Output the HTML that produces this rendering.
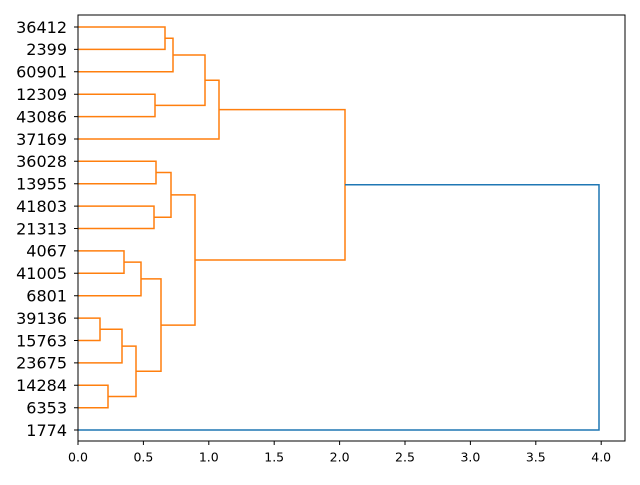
<!DOCTYPE html>
<html><head><meta charset="utf-8"><style>body{margin:0;background:#fff}</style></head>
<body>
<svg width="640" height="480" xmlns="http://www.w3.org/2000/svg" font-family="DejaVu Sans, Liberation Sans, sans-serif">
<rect width="640" height="480" fill="#fff"/>
<g fill="none" stroke="#ff7f0e" stroke-width="1.5">
<path d="M78,27H165V49.4H78"/>
<path d="M165,38.2H173V71.8H78"/>
<path d="M78,94.2H155V116.6H78"/>
<path d="M173,55H205V105.4H155"/>
<path d="M205,80.2H219V139H78"/>
<path d="M78,161.3H156V183.7H78"/>
<path d="M78,206.1H154V228.5H78"/>
<path d="M156,172.5H171V217.3H154"/>
<path d="M78,250.9H124V273.3H78"/>
<path d="M124,262.1H141V295.7H78"/>
<path d="M78,318.1H100V340.5H78"/>
<path d="M100,329.3H122V362.9H78"/>
<path d="M78,385.3H108V407.7H78"/>
<path d="M122,346.1H136V396.5H108"/>
<path d="M141,278.9H161V371.3H136"/>
<path d="M171,194.9H195V325.1H161"/>
<path d="M219,109.6H345V260H195"/>
</g>
<path d="M345,184.8H599V430H78" fill="none" stroke="#1f77b4" stroke-width="1.5"/>
<rect x="78" y="15" width="547" height="426" fill="none" stroke="#000" stroke-width="1"/>
<g font-size="16" text-anchor="end" fill="#000">
<text x="67" y="32.8">36412</text><text x="67" y="55.2">2399</text><text x="67" y="77.6">60901</text>
<text x="67" y="100">12309</text><text x="67" y="122.4">43086</text><text x="67" y="144.8">37169</text>
<text x="67" y="167.1">36028</text><text x="67" y="189.5">13955</text><text x="67" y="211.9">41803</text>
<text x="67" y="234.3">21313</text><text x="67" y="256.7">4067</text><text x="67" y="279.1">41005</text>
<text x="67" y="301.5">6801</text><text x="67" y="323.9">39136</text><text x="67" y="346.3">15763</text>
<text x="67" y="368.7">23675</text><text x="67" y="391.1">14284</text><text x="67" y="413.5">6353</text>
<text x="67" y="435.8">1774</text>
</g>
<g stroke="#000" stroke-width="1">
<path d="M78,441v4M143.4,441v4M208.8,441v4M274.2,441v4M339.6,441v4M405,441v4M470.4,441v4M535.8,441v4M601.2,441v4"/>
<path d="M78,27h-4M78,49.4h-4M78,71.8h-4M78,94.2h-4M78,116.6h-4M78,139h-4M78,161.3h-4M78,183.7h-4M78,206.1h-4M78,228.5h-4M78,250.9h-4M78,273.3h-4M78,295.7h-4M78,318.1h-4M78,340.5h-4M78,362.9h-4M78,385.3h-4M78,407.7h-4M78,430h-4"/>
</g>
<g font-size="12.5" text-anchor="middle" fill="#000">
<text x="78" y="461.5">0.0</text><text x="143.4" y="461.5">0.5</text><text x="208.8" y="461.5">1.0</text>
<text x="274.2" y="461.5">1.5</text><text x="339.6" y="461.5">2.0</text><text x="405" y="461.5">2.5</text>
<text x="470.4" y="461.5">3.0</text><text x="535.8" y="461.5">3.5</text><text x="601.2" y="461.5">4.0</text>
</g>
</svg>
</body></html>
